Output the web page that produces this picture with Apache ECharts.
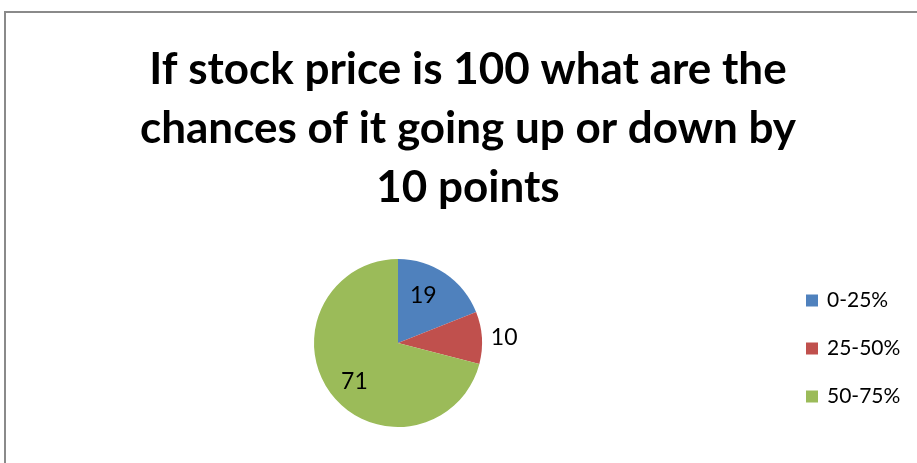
<!DOCTYPE html>
<html>
<head>
<meta charset="utf-8">
<script src="https://cdn.jsdelivr.net/npm/echarts@6/dist/echarts.min.js"></script>
<style>
  html, body { margin: 0; padding: 0; background: #fff; }
  #chart { width: 917px; height: 463px; }
</style>
</head>
<body>
<div id="chart"></div>
<script>
// data
const titleText = 'If stock price is 100 what are the\nchances of it going up or down by\n10 points';
const categories = ['0-25%', '25-50%', '50-75%'];
const values = [19, 10, 71];
const colors = ['#4F81BD', '#C0504D', '#9BBB59'];

// label placement per slice (inside / outside as in the original)
const labelCfg = [
  { position: 'inside', offset: [0, -10] },
  { position: 'outside' },
  { position: 'inside', offset: [-8, 11] }
];

const chart = echarts.init(document.getElementById('chart'));

const option = {
  animation: false,
  textStyle: { fontFamily: 'Lato' },
  title: {
    text: titleText,
    left: 463,
    top: 35,
    textAlign: 'center',
    textStyle: {
      fontFamily: 'Lato',
      fontWeight: 'bold',
      fontSize: 44,
      lineHeight: 59,
      color: '#000'
    }
  },
  legend: {
    orient: 'vertical',
    left: 801,
    top: 285,
    itemWidth: 12,
    itemHeight: 12,
    itemGap: 27,
    icon: 'rect',
    data: categories,
    textStyle: {
      fontFamily: 'Lato',
      fontSize: 21,
      color: '#000',
      padding: [0, 0, 0, 4]
    }
  },
  graphic: [{
    type: 'rect',
    shape: { x: 5, y: 12, width: 2000, height: 2000 },
    style: { fill: 'none', stroke: '#8a8a8a', lineWidth: 2 },
    silent: true
  }],
  series: [{
    type: 'pie',
    center: [398, 343],
    radius: 84,
    startAngle: 90,
    clockwise: true,
    avoidLabelOverlap: false,
    labelLine: { show: false, length: 4, length2: 0 },
    label: {
      fontFamily: 'Lato',
      fontSize: 23,
      color: '#000',
      formatter: '{c}'
    },
    emphasis: { disabled: true },
    data: categories.map((name, i) => ({
      name: name,
      value: values[i],
      itemStyle: { color: colors[i] },
      label: labelCfg[i]
    }))
  }]
};

chart.setOption(option);
</script>
</body>
</html>
